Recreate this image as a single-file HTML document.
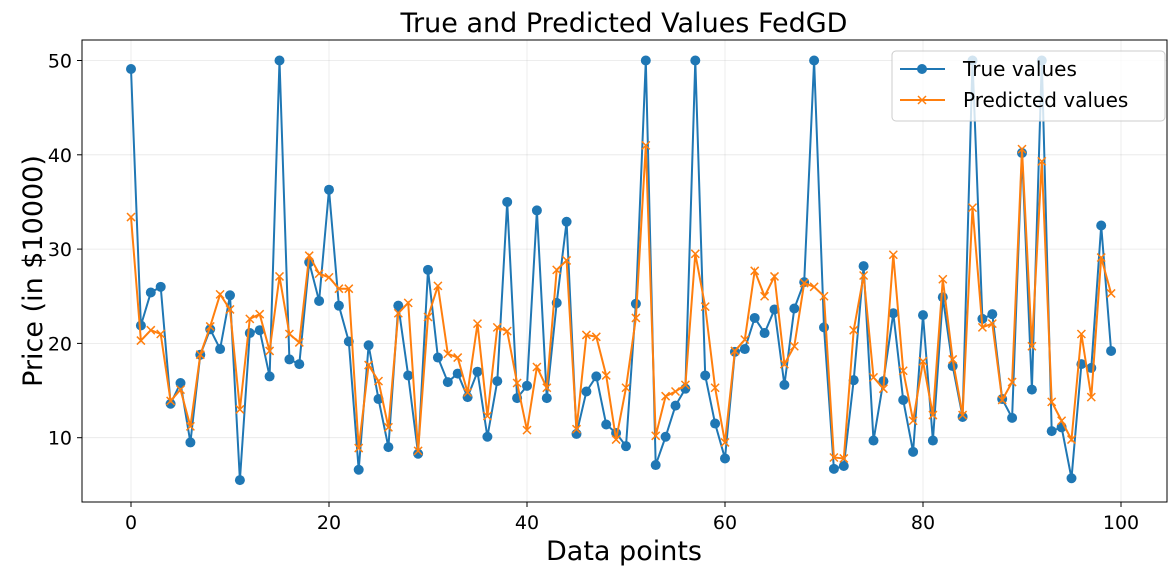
<!DOCTYPE html>
<html><head><meta charset="utf-8"><style>
body{margin:0;background:#fff;}
svg text{font-family:"DejaVu Sans","Liberation Sans",sans-serif;fill:#000;}
</style></head><body>
<svg id="chart" width="1176" height="575" xmlns="http://www.w3.org/2000/svg">
<rect width="1176" height="575" fill="#fff"/>
<g id="grid"></g>
<g id="ticks"></g>
<g id="series"></g>
<rect x="82" y="40" width="1085" height="462" fill="none" stroke="#000" stroke-width="1"/>
<text x="624" y="32" font-size="27" text-anchor="middle">True and Predicted Values FedGD</text>
<text x="624" y="560" font-size="27" text-anchor="middle">Data points</text>
<text transform="translate(42,271) rotate(-90)" font-size="27" text-anchor="middle">Price (in $10000)</text>
<g>
<rect x="892" y="51" width="273" height="70" rx="4" fill="#fff" fill-opacity="0.8" stroke="#ccc"/>
<g>
<line x1="900" y1="69" x2="945" y2="69" stroke="#1f77b4" stroke-width="2"/>
<circle cx="922" cy="69" r="5" fill="#1f77b4"/>
<text x="963" y="76" font-size="20">True values</text></g>
<g>
<line x1="900" y1="100" x2="945" y2="100" stroke="#ff7f0e" stroke-width="2"/>
<path d="M918,96 l8,8 M926,96 l-8,8" stroke="#ff7f0e" stroke-width="1.5"/>
<text x="963" y="107" font-size="20">Predicted values</text></g>
</g>
</svg>
<script>
const trueValues=[49.1,21.9,25.4,26.0,13.6,15.8,9.5,18.8,21.5,19.4,25.1,5.5,21.1,21.4,16.5,50,18.3,17.8,28.6,24.5,36.3,24.0,20.2,6.6,19.8,14.1,9.0,24.0,16.6,8.3,27.8,18.5,15.9,16.8,14.3,17.0,10.1,16.0,35.0,14.2,15.5,34.1,14.2,24.3,32.9,10.4,14.9,16.5,11.4,10.5,9.1,24.2,50,7.1,10.1,13.4,15.2,50,16.6,11.5,7.8,19.1,19.4,22.7,21.1,23.6,15.6,23.7,26.5,50,21.7,6.7,7.0,16.1,28.2,9.7,16.0,23.2,14.0,8.5,23.0,9.7,24.9,17.6,12.2,50,22.6,23.1,14.1,12.1,40.2,15.1,50,10.7,11.1,5.7,17.8,17.4,32.5,19.2];
const predictedValues=[33.4,20.3,21.4,21.0,13.9,15.1,11.2,18.8,21.8,25.2,23.6,13.0,22.6,23.1,19.2,27.1,21.0,20.1,29.3,27.4,27.0,25.8,25.8,8.9,17.7,16.0,11.1,23.2,24.3,8.6,22.8,26.1,18.9,18.5,14.8,22.1,12.3,21.7,21.3,15.8,10.8,17.5,15.3,27.8,28.8,10.9,20.9,20.7,16.6,9.8,15.3,22.7,41.0,10.2,14.4,14.9,15.6,29.5,23.9,15.3,9.5,19.2,20.4,27.7,25.0,27.1,17.8,19.7,26.4,26.0,25.0,7.9,7.8,21.4,27.2,16.4,15.2,29.4,17.1,11.8,18.1,12.4,26.8,18.3,12.4,34.4,21.7,22.1,14.0,15.9,40.6,19.7,39.3,13.8,11.8,9.8,21.0,14.3,29.1,25.3];
const xTicks=[0,20,40,60,80,100];
const yTicks=[10,20,30,40,50];
const NS="http://www.w3.org/2000/svg";
function X(v){return 131+v*9.9;}
function Y(v){return 532-v*9.43;}
function mk(tag,attrs,parent){const e=document.createElementNS(NS,tag);for(const k in attrs)e.setAttribute(k,attrs[k]);parent.appendChild(e);return e;}
const grid=document.getElementById('grid'),ticks=document.getElementById('ticks'),series=document.getElementById('series');
xTicks.forEach(t=>{
  const g=mk('line',{x1:X(t),x2:X(t),y1:40,y2:502,stroke:'#b0b0b0','stroke-opacity':0.3,'stroke-width':0.8},grid);
  
  
  mk('line',{x1:X(t),x2:X(t),y1:502,y2:507,stroke:'#000'},ticks);
  const tx=mk('text',{x:X(t),y:529,'font-size':19,'text-anchor':'middle'},ticks);
  tx.textContent=t;
  
  
});
yTicks.forEach(t=>{
  const g=mk('line',{x1:82,x2:1167,y1:Y(t),y2:Y(t),stroke:'#b0b0b0','stroke-opacity':0.3,'stroke-width':0.8},grid);
  
  
  mk('line',{x1:77,x2:82,y1:Y(t),y2:Y(t),stroke:'#000'},ticks);
  const tx=mk('text',{x:72,y:Y(t)+7,'font-size':19,'text-anchor':'end'},ticks);
  tx.textContent=t;
  
  
});
const tl=mk('polyline',{points:trueValues.map((v,i)=>X(i)+','+Y(v)).join(' '),fill:'none',stroke:'#1f77b4','stroke-width':2},series);


trueValues.forEach((v,i)=>{
  const c=mk('circle',{cx:X(i),cy:Y(v),r:5,fill:'#1f77b4'},series);
  
  
});
const pl=mk('polyline',{points:predictedValues.map((v,i)=>X(i)+','+Y(v)).join(' '),fill:'none',stroke:'#ff7f0e','stroke-width':2},series);


predictedValues.forEach((v,i)=>{
  const x=X(i),y=Y(v);
  const p=mk('path',{d:`M${x-4},${y-4} L${x+4},${y+4} M${x+4},${y-4} L${x-4},${y+4}`,stroke:'#ff7f0e','stroke-width':1.5},series);
  
  
});
</script>
</body></html>
